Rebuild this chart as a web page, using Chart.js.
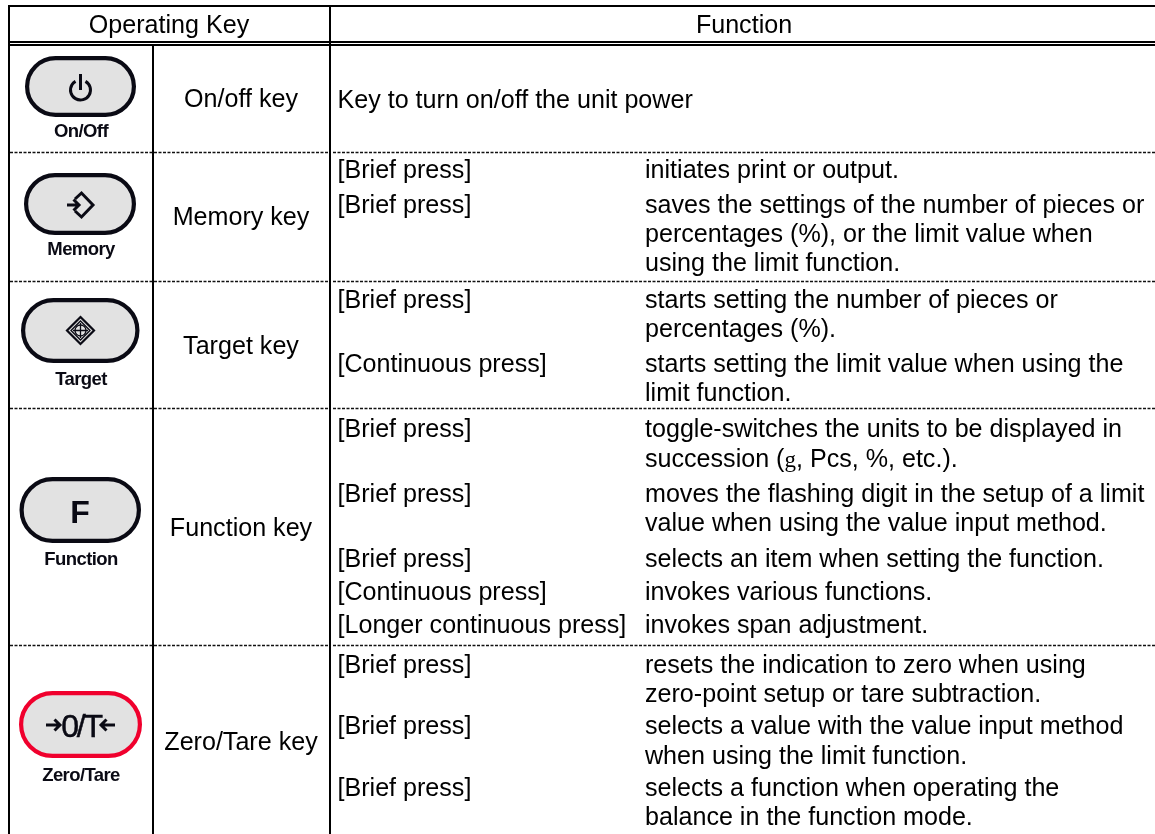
<!DOCTYPE html>
<html><head><meta charset="utf-8"><title>Operating keys</title>
<style>html,body{margin:0;padding:0;background:#fff}canvas{display:block}</style>
<script src="https://cdn.jsdelivr.net/npm/chart.js@4"></script></head>
<body><canvas id="c" width="1155" height="834"></canvas>
<script>
const headers = ["Operating Key", "Function"];
const keyNames = ["On/off key", "Memory key", "Target key", "Function key", "Zero/Tare key"];
const keyCaptions = ["On/Off", "Memory", "Target", "Function", "Zero/Tare"];
const powerText = "Key to turn on/off the unit power";
const pressLabels = ["[Brief press]", "[Brief press]", "", "", "[Brief press]", "", "[Continuous press]", "",
  "[Brief press]", "", "[Brief press]", "", "[Brief press]", "[Continuous press]", "[Longer continuous press]",
  "[Brief press]", "", "[Brief press]", "", "[Brief press]", ""];
const functionLines = ["initiates print or output.",
  "saves the settings of the number of pieces or", "percentages (%), or the limit value when", "using the limit function.",
  "starts setting the number of pieces or", "percentages (%).",
  "starts setting the limit value when using the", "limit function.",
  "toggle-switches the units to be displayed in", "succession (g, Pcs, %, etc.).",
  "moves the flashing digit in the setup of a limit", "value when using the value input method.",
  "selects an item when setting the function.", "invokes various functions.", "invokes span adjustment.",
  "resets the indication to zero when using", "zero-point setup or tare subtraction.",
  "selects a value with the value input method", "when using the limit function.",
  "selects a function when operating the", "balance in the function mode."];

// layout (separate from content)
const lineY = [178,213,242,271,308,337,372,401,437,467,502,531,567,600,633,673,702,734,764,796,825];
const dashY = [152,281,408,645];
const nameY = [107,225,354,536,750];
const captionY = [137,255,385,565,781];
const pills = [[25,56,136,117],[24,173,136,235],[21,298,139.5,363],[19.5,477,141,543],[19,691,142,758]];
const FONT = '"Liberation Sans", Arial, sans-serif';
const TEXT_SIZE = 25.1;
const INK = "#000", KEY = "#0a0a14";

function pill(ctx, b, stroke) {
  const w = 4.2, x = b[0]+w/2, y = b[1]+w/2, W = b[2]-b[0]-w, H = b[3]-b[1]-w;
  ctx.beginPath(); ctx.roundRect(x, y, W, H, H/2);
  ctx.fillStyle = "#e2e2e2"; ctx.fill();
  ctx.lineWidth = w; ctx.strokeStyle = stroke; ctx.stroke();
}
function arrow(ctx, x1, x2, y) {
  const d = Math.sign(x2-x1);
  ctx.beginPath(); ctx.moveTo(x1,y); ctx.lineTo(x2,y);
  ctx.moveTo(x2-d*5.5,y-5.5); ctx.lineTo(x2,y); ctx.lineTo(x2-d*5.5,y+5.5); ctx.stroke();
}
function diamond(ctx, cx, cy, r) {
  ctx.beginPath(); ctx.moveTo(cx,cy-r); ctx.lineTo(cx+r,cy); ctx.lineTo(cx,cy+r); ctx.lineTo(cx-r,cy); ctx.closePath(); ctx.stroke();
}
const tablePlugin = {
  id: "table",
  afterDraw(chart) {
    const ctx = chart.ctx; ctx.save();
    const body = TEXT_SIZE + "px " + FONT;
    // rules
    ctx.fillStyle = INK;
    ctx.fillRect(8,5,1147,2);
    ctx.fillRect(8,5,2,829);
    ctx.fillRect(8,41,1147,2); ctx.fillRect(8,44,1147,2);
    ctx.fillRect(152,45,2,789);
    ctx.fillRect(329,5,2,829);
    ctx.strokeStyle = "#111"; ctx.lineWidth = 1.5; ctx.setLineDash([3,1.5]);
    dashY.forEach(y => {
      ctx.beginPath(); ctx.moveTo(10,y+.5); ctx.lineTo(329,y+.5); ctx.moveTo(333,y+.5); ctx.lineTo(1155,y+.5); ctx.stroke();
    });
    ctx.setLineDash([]);
    // body text
    ctx.fillStyle = "#000"; ctx.textBaseline = "alphabetic";
    ctx.font = body; ctx.textAlign = "center";
    ctx.fillText(headers[0], 169, 33); ctx.fillText(headers[1], 744, 33);
    keyNames.forEach((t,i) => ctx.fillText(t, 241, nameY[i]));
    ctx.textAlign = "left";
    ctx.fillText(powerText, 337.5, 108);
    pressLabels.forEach((t,i) => { if (t) ctx.fillText(t, 337.5, lineY[i]); });
    functionLines.forEach((t,i) => {
      const k = t.indexOf("(g,");
      if (k >= 0) {
        const a = t.slice(0,k+1), b = t.slice(k+2);
        ctx.fillText(a, 645, lineY[i]); let x = 645 + ctx.measureText(a).width;
        ctx.font = '23px "Liberation Serif", serif'; ctx.fillText("g", x, lineY[i]); x += ctx.measureText("g").width;
        ctx.font = body; ctx.fillText(b, x, lineY[i]);
      } else ctx.fillText(t, 645, lineY[i]);
    });
    // keys
    pills.forEach((b,i) => pill(ctx, b, i === 4 ? "#f0002d" : KEY));
    ctx.fillStyle = KEY; ctx.textAlign = "center"; ctx.font = "bold 18.5px "+FONT; ctx.letterSpacing = "-0.6px";
    keyCaptions.forEach((t,i) => ctx.fillText(t, 81, captionY[i]));
    ctx.letterSpacing = "0px";
    ctx.strokeStyle = KEY; ctx.lineCap = "butt";
    // power
    ctx.lineWidth = 3;
    ctx.beginPath(); ctx.arc(80.5,90,10,-1.05,Math.PI+1.05); ctx.stroke();
    ctx.beginPath(); ctx.moveTo(80.5,74); ctx.lineTo(80.5,90); ctx.stroke();
    // memory
    ctx.lineWidth = 3;
    ctx.beginPath(); ctx.moveTo(75,199); ctx.lineTo(81.5,193); ctx.lineTo(93,205); ctx.lineTo(81.5,217); ctx.lineTo(75,211); ctx.stroke();
    arrow(ctx, 67, 79, 205);
    // target
    ctx.lineWidth = 2.2; diamond(ctx, 80.5, 330.5, 13.5);
    ctx.lineWidth = 1.3; diamond(ctx, 80.5, 330.5, 9.5);
    ctx.beginPath(); ctx.arc(80.5,330.5,5.5,0,Math.PI*2); ctx.stroke();
    ctx.beginPath(); ctx.moveTo(73,330.5); ctx.lineTo(88,330.5); ctx.moveTo(80.5,323); ctx.lineTo(80.5,338); ctx.stroke();
    // F
    ctx.font = "bold 32px "+FONT; ctx.fillText("F", 80, 523);
    // zero/tare
    ctx.font = "32px "+FONT; ctx.letterSpacing = "-2.2px"; ctx.lineWidth = .5;
    ctx.fillText("0/T", 81, 737); ctx.strokeText("0/T", 81, 737); ctx.letterSpacing = "0px";
    ctx.lineWidth = 3; arrow(ctx, 46, 60, 725); arrow(ctx, 115, 101, 725);
    ctx.restore();
  }
};
new Chart(document.getElementById("c"), {
  type: "scatter",
  data: { datasets: [] },
  options: { responsive:false, animation:false, layout:{padding:0},
    plugins:{legend:{display:false},tooltip:{enabled:false},title:{display:false}},
    scales:{x:{display:false,min:0,max:1155},y:{display:false,min:0,max:834,reverse:true}} },
  plugins:[tablePlugin]
});
</script></body></html>
